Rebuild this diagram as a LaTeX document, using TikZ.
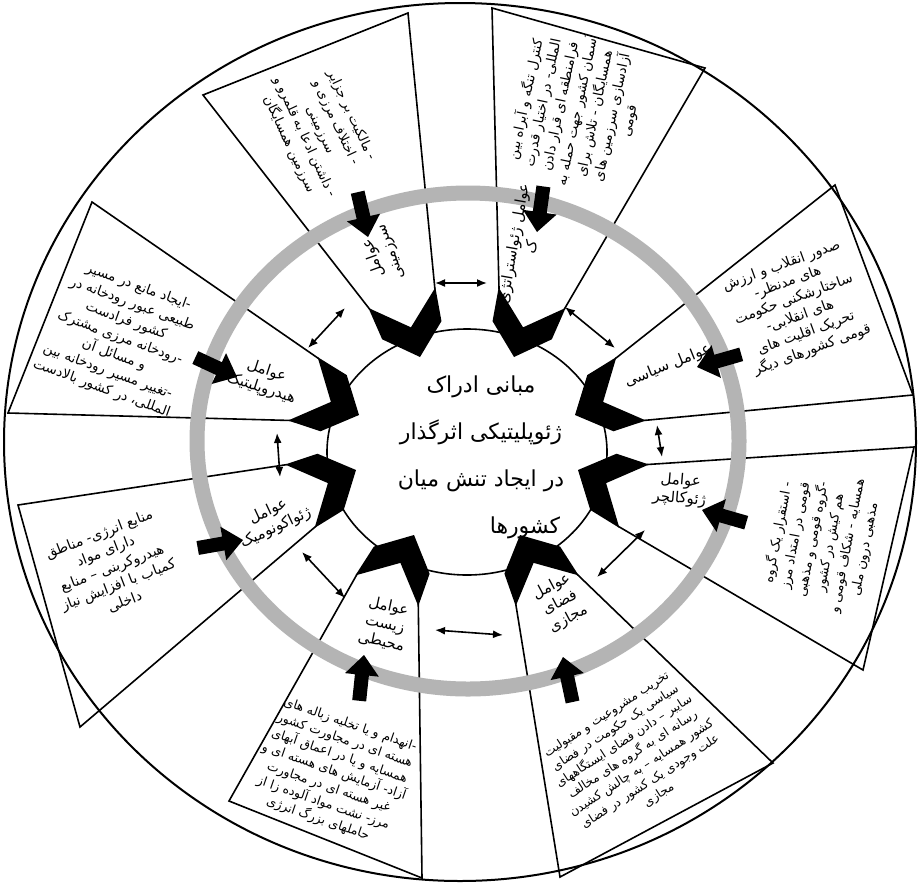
\documentclass[tikz,border=0pt]{standalone}
\usepackage{fontspec}
\usetikzlibrary{arrows.meta}
\TeXXeTstate=1
\newfontfamily\arfont[Script=Arabic]{DejaVu Sans}
\definecolor{ringgray}{RGB}{180,180,180}
\newcommand\arl[1]{\beginR #1\endR}
\newcommand\chevpts[4]{\path[shift={(#2,#3)},rotate=#4] (60,34) coordinate (#1-cw) (60,-34) coordinate (#1-ccw);}
\newcommand\chevfill[3]{\fill[shift={(#1,#2)},rotate=#3] (0,0)--(28,31)--(62,35)--(31,0)--(62,-35)--(28,-31)--cycle;}
\newcommand\blkarrow[3]{\fill[shift={(#1,#2)},rotate=#3] (0,0)--(-20,-17)--(-20,-7)--(-46,-7)--(-46,7)--(-20,7)--(-20,17)--cycle;}
\begin{document}
\begin{tikzpicture}[x=0.5pt,y=-0.5pt,
  sect/.style={line width=0.8pt},
  dbl/.style={{Latex[length=5pt,width=4pt]}-{Latex[length=5pt,width=4pt]},line width=0.8pt},
  boxtxt/.style={font=\arfont\fontsize{7}{9}\selectfont,align=center,inner sep=0pt},
  lbl/.style={font=\arfont\fontsize{7.5}{9}\selectfont,align=center,inner sep=0pt},
  ctr/.style={font=\arfont\fontsize{11}{23.5}\selectfont,align=center,inner sep=0pt}]
\useasboundingbox (0,0) rectangle (920,884);
\fill[white] (0,0) rectangle (920,884);
% outer circle
\draw[line width=1pt] (460,442) ellipse [x radius=228pt, y radius=219.5pt];
% chevron anchor points
\chevpts{sar}{420}{357}{107}
\chevpts{geo}{514}{357}{73}
\chevpts{sia}{575}{415}{25}
\chevpts{cul}{578}{470}{-25}
\chevpts{maj}{520}{535}{-64}
\chevpts{zis}{414}{535}{-116}
\chevpts{eco}{356}{470}{205}
\chevpts{hyd}{359}{415}{155}
% outer points
\coordinate (sar-o1) at (203,95);  \coordinate (sar-o2) at (408,13);
\coordinate (geo-o1) at (492,8);   \coordinate (geo-o2) at (705,68);
\coordinate (sia-o1) at (835,185); \coordinate (sia-o2) at (913,395);
\coordinate (cul-o1) at (914,447); \coordinate (cul-o2) at (863,670);
\coordinate (maj-o1) at (773,763); \coordinate (maj-o2) at (560,877);
\coordinate (zis-o1) at (422,878); \coordinate (zis-o2) at (229,801);
\coordinate (eco-o1) at (80,727);  \coordinate (eco-o2) at (18,505);
\coordinate (hyd-o1) at (8,413);   \coordinate (hyd-o2) at (92,202);
% sector lines and boxes
\foreach \s in {sar,geo,sia,cul,maj,zis,eco,hyd}{
  \draw[sect] (\s-ccw) -- (\s-o1) -- (\s-o2) -- (\s-cw);
}
% inner circle
\draw[line width=0.8pt] (467,452) ellipse [x radius=70pt, y radius=61.5pt];
% ring
\draw[ringgray, line width=7.5pt] (468,441) ellipse [x radius=135.5pt, y radius=124pt];
% chevrons
\chevfill{420}{357}{107}
\chevfill{514}{357}{73}
\chevfill{575}{415}{25}
\chevfill{578}{470}{-25}
\chevfill{520}{535}{-64}
\chevfill{414}{535}{-116}
\chevfill{356}{470}{205}
\chevfill{359}{415}{155}
% black arrows across the ring
\blkarrow{368}{237}{-77}
\blkarrow{537}{232}{-98}
\blkarrow{697}{367}{-164}
\blkarrow{702}{510}{164}
\blkarrow{563}{657}{102}
\blkarrow{364}{655}{84}
\blkarrow{243}{540}{10}
\blkarrow{237}{377}{-25}
% double arrows
\coordinate (dA1) at (435,283); \coordinate (dA2) at (487,283);
\coordinate (dB1) at (565,307); \coordinate (dB2) at (615,348);
\coordinate (dC1) at (657,425); \coordinate (dC2) at (662,457);
\coordinate (dD1) at (597,577); \coordinate (dD2) at (645,530);
\coordinate (dE1) at (435,630); \coordinate (dE2) at (503,635);
\coordinate (dF1) at (302,552); \coordinate (dF2) at (345,598);
\coordinate (dG1) at (277,433); \coordinate (dG2) at (280,477);
\coordinate (dH1) at (308,348); \coordinate (dH2) at (345,308);
\foreach \g in {A,B,C,D,E,F,G,H}{\draw[dbl] (d\g1) -- (d\g2);}
% centre text
\node[ctr] (centre) at (481,434) {\arl{مبانی ادراک}\\\arl{ژئوپلیتیکی اثرگذار}\\\arl{در ایجاد تنش میان}};
\node[ctr] (centre4) at (525,528) {\arl{کشورها}};
% factor labels
\node[lbl,rotate=110] (lsar) at (382,255) {\arl{عوامل}\\\arl{سرزمینی}};
\node[lbl,rotate=80] (lgeo) at (522,245) {\arl{عوامل ژئواستراتژی}\\\arl{ک}};
\node[lbl,rotate=22] (lsia) at (668,366) {\arl{عوامل سیاسی}};
\node[lbl,rotate=-5] (lcul) at (680,490) {\arl{عوامل}\\\arl{ژئوکالچر}};
\node[lbl,rotate=28] (lmaj) at (560,603) {\arl{عوامل}\\\arl{فضای}\\\arl{مجازی}};
\node[lbl,rotate=-12] (lzis) at (385,624) {\arl{عوامل}\\\arl{زیست}\\\arl{محیطی}};
\node[lbl,rotate=25] (leco) at (272,520) {\arl{عوامل}\\\arl{ژئواکونومیک}};
\node[lbl,rotate=-18] (lhyd) at (264,380) {\arl{عوامل}\\\arl{هیدروپلیتیک}};
% box texts
\begin{scope}\clip (sar-ccw)--(sar-o1)--(sar-o2)--(sar-cw)--cycle;
\node[boxtxt,rotate=-65,font=\arfont\fontsize{6.6}{8.6}\selectfont] (tsar) at (320,130) {\arl{- مالکیت بر جزایر}\\\arl{- اختلاف مرزی و}\\\arl{سرزمینی}\\\arl{- داشتن ادعا به قلمرو و}\\\arl{سرزمین همسایگان}};
\end{scope}
\begin{scope}\clip (geo-ccw)--(geo-o1)--(geo-o2)--(geo-cw)--cycle;
\node[boxtxt,rotate=78,font=\arfont\fontsize{6.8}{8.8}\selectfont] (tgeo) at (577,110) {\arl{کنترل تنگه و آبراه بین}\\\arl{المللی- در اختیار قدرت}\\\arl{فرامنطقه ای قرار دادن}\\\arl{آسمان کشور جهت حمله به}\\\arl{همسایگان - تلاش برای}\\\arl{آزادسازی سرزمین های}\\\arl{قومی}};
\end{scope}
\begin{scope}\clip (sia-ccw)--(sia-o1)--(sia-o2)--(sia-cw)--cycle;
\node[boxtxt,rotate=20] (tsia) at (797,308) {\arl{صدور انقلاب و ارزش}\\\arl{های مدنظر-}\\\arl{ساختارشکنی حکومت}\\\arl{های انقلابی-}\\\arl{تحریک اقلیت های}\\\arl{قومی کشورهای دیگر}};
\end{scope}
\begin{scope}\clip (cul-ccw)--(cul-o1)--(cul-o2)--(cul-cw)--cycle;
\node[boxtxt,rotate=79,font=\arfont\fontsize{6.6}{8.8}\selectfont] (tcul) at (821,541) {\arl{- استقرار یک گروه}\\\arl{قومی در امتداد مرز}\\\arl{-گروه قومی و مذهبی}\\\arl{هم کیش در کشور}\\\arl{همسایه - شکاف قومی و}\\\arl{مذهبی درون ملی}};
\end{scope}
\begin{scope}\clip (maj-ccw)--(maj-o1)--(maj-o2)--(maj-cw)--cycle;
\node[boxtxt,rotate=33,font=\arfont\fontsize{6.1}{8}\selectfont] (tmaj) at (633,755) {\arl{تخریب مشروعیت و مقبولیت}\\\arl{سیاسی یک حکومت در فضای}\\\arl{سایبر – دادن فضای ایستگاههای}\\\arl{رسانه ای به گروه های مخالف}\\\arl{کشور همسایه – به چالش کشیدن}\\\arl{علت وجودی یک کشور در فضای}\\\arl{مجازی}};
\end{scope}
\begin{scope}\clip (zis-ccw)--(zis-o1)--(zis-o2)--(zis-cw)--cycle;
\node[boxtxt,rotate=-19,font=\arfont\fontsize{6.3}{8.3}\selectfont] (tzis) at (334,772) {\arl{-انهدام و یا تخلیه زباله های}\\\arl{هسته ای در مجاورت کشور}\\\arl{همسایه و یا در اعماق آبهای}\\\arl{آزاد- آزمایش های هسته ای و}\\\arl{غیر هسته ای در مجاورت}\\\arl{مرز- نشت مواد آلوده زا از}\\\arl{حاملهای بزرگ انرژی}};
\end{scope}
\begin{scope}\clip (eco-ccw)--(eco-o1)--(eco-o2)--(eco-cw)--cycle;
\node[boxtxt,rotate=21] (teco) at (112,568) {\arl{منابع انرژی- مناطق}\\\arl{دارای مواد}\\\arl{هیدروکربنی – منابع}\\\arl{کمیاب با افزایش نیاز}\\\arl{داخلی}};
\end{scope}
\begin{scope}\clip (hyd-ccw)--(hyd-o1)--(hyd-o2)--(hyd-cw)--cycle;
\node[boxtxt,rotate=-20,font=\arfont\fontsize{6.8}{9}\selectfont] (thyd) at (120,338) {\arl{-ایجاد مانع در مسیر}\\\arl{طبیعی عبور رودخانه در}\\\arl{کشور فرادست}\\\arl{-رودخانه مرزی مشترک}\\\arl{و مسائل آن}\\\arl{-تغییر مسیر رودخانه بین}\\\arl{المللی، در کشور بالادست}};
\end{scope}
\end{tikzpicture}
\end{document}
